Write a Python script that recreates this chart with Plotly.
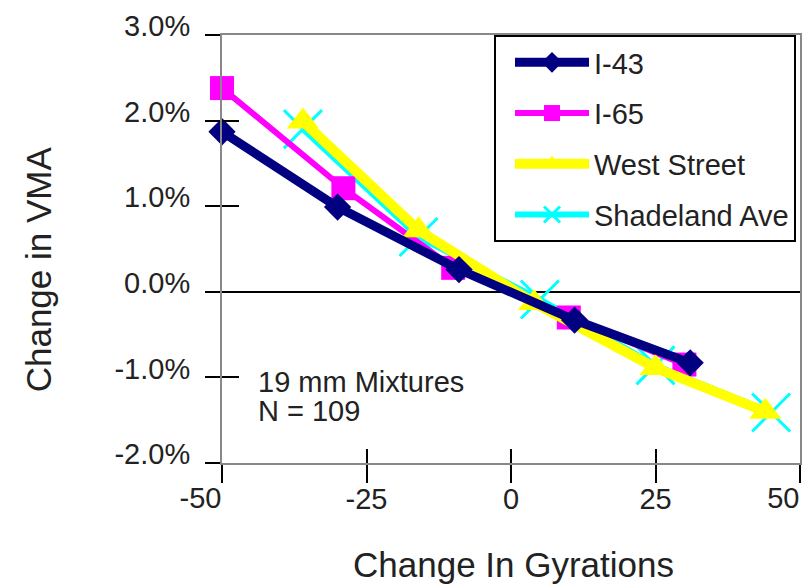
import plotly.graph_objects as go

# Change in gyrations vs. change in VMA (%), 19 mm mixtures
gyr_i43 = [-50, -30, -9, 11, 31]
vma_i43 = [1.87, 0.99, 0.26, -0.33, -0.83]

gyr_i65 = [-50, -29, -10, 10, 30]
vma_i65 = [2.38, 1.21, 0.28, -0.30, -0.85]

gyr_west = [-36, -16, 4, 25, 44]
vma_west = [1.99, 0.72, -0.13, -0.89, -1.40]

gyr_shade = [-36, -16, 5, 25, 45]
vma_shade = [1.90, 0.64, -0.09, -0.86, -1.41]

x_tickvals = [-50, -25, 0, 25, 50]
x_ticktext = ["-50", "-25", "0", "25", "50"]
y_tickvals = [-2, -1, 0, 1, 2, 3]
y_ticktext = ["-2.0%", "-1.0%", "0.0%", "1.0%", "2.0%", "3.0%"]

# inner ticks and end labels (right-aligned to their tick) go on overlay axes
x_inner = x_ticktext[1:-1]
x_end_vals = [x_tickvals[0], x_tickvals[-1]]
x_end_text = [x_ticktext[0], x_ticktext[-1]]

FONT = "Liberation Sans, Arial, sans-serif"
TXT = "#222222"

fig = go.Figure()

# drawing order: cyan, magenta, yellow, navy on top; legend order set by rank
fig.add_trace(go.Scatter(
    x=gyr_shade, y=vma_shade, name="Shadeland Ave", mode="lines+markers",
    line=dict(color="#00FFFF", width=6),
    marker=dict(symbol="x-thin", size=38, line=dict(color="#00FFFF", width=3)),
    legendrank=4, legendgroup="d", cliponaxis=False))
fig.add_trace(go.Scatter(
    x=gyr_i65, y=vma_i65, name="I-65", mode="lines+markers",
    line=dict(color="#FF00FF", width=6),
    marker=dict(symbol="square", size=24, color="#FF00FF"),
    legendrank=2, legendgroup="b", cliponaxis=False))
fig.add_trace(go.Scatter(
    x=gyr_west, y=vma_west, name="West Street", mode="lines+markers",
    line=dict(color="#FFFF00", width=10),
    marker=dict(symbol="triangle-up", size=28, color="#FFFF00"),
    legendrank=3, legendgroup="c", cliponaxis=False))
fig.add_trace(go.Scatter(
    x=gyr_i43, y=vma_i43, name="I-43", mode="lines+markers",
    line=dict(color="#000080", width=9),
    marker=dict(symbol="diamond", size=21, color="#000080"),
    legendrank=1, legendgroup="a", cliponaxis=False))

# empty traces so the overlay axes are drawn
fig.add_trace(go.Scatter(x=[], y=[], xaxis="x2", yaxis="y2",
                         showlegend=False, hoverinfo="skip"))
fig.add_trace(go.Scatter(x=[], y=[], xaxis="x3", yaxis="y",
                         showlegend=False, hoverinfo="skip"))

axis_font = dict(family=FONT, size=29, color=TXT)

fig.update_layout(
    width=804, height=586,
    margin=dict(l=222, r=4, t=35, b=123, autoexpand=False),
    paper_bgcolor="white", plot_bgcolor="white",
    font=dict(family=FONT, color=TXT),
    xaxis=dict(range=[-50, 50], tickvals=x_tickvals,
               ticktext=[""] + x_inner + [""],
               ticks="outside", ticklen=18, tickwidth=2, tickcolor="black",
               showline=True, linecolor="#888888", linewidth=2, mirror=True,
               showgrid=False, zeroline=False, tickfont=axis_font,
               ticklabelstandoff=-9),
    xaxis3=dict(range=[-50, 50], overlaying="x", anchor="y", side="bottom",
                tickvals=x_end_vals, ticktext=x_end_text, ticks="outside",
                ticklen=18, tickcolor="rgba(0,0,0,0)",
                ticklabelposition="outside left", ticklabelstandoff=9,
                ticklabeloverflow="allow", tickfont=axis_font,
                showline=False, showgrid=False, zeroline=False),
    yaxis=dict(range=[-2, 3], tickvals=y_tickvals, ticktext=y_ticktext,
               ticks="outside", ticklen=15, tickwidth=2, tickcolor="black",
               showline=True, linecolor="#888888", linewidth=2, mirror=True,
               showgrid=False, zeroline=True, zerolinecolor="black",
               zerolinewidth=2, tickfont=axis_font,
               ticklabelstandoff=9, ticklabelshift=-9,
               ticklabeloverflow="allow"),
    xaxis2=dict(range=[-50, 50], overlaying="x", anchor="y2", side="bottom",
                tickvals=x_tickvals, ticks="inside", ticklen=14, tickwidth=2,
                tickcolor="black", showticklabels=False, showline=False,
                showgrid=False, zeroline=False),
    yaxis2=dict(range=[-2, 3], overlaying="y", anchor="x2", side="left",
                tickvals=[-2, -1, 1, 2], ticks="inside", ticklen=17,
                tickwidth=2, tickcolor="black", showticklabels=False,
                showline=False, showgrid=False, zeroline=False),
    legend=dict(x=0.4706, xanchor="left", y=1, yanchor="top",
                bgcolor="white", bordercolor="black", borderwidth=2,
                font=dict(family=FONT, size=29, color=TXT),
                tracegroupgap=10, indentation=14, itemwidth=74,
                traceorder="grouped"),
    annotations=[
        dict(text="Change In Gyrations", xref="paper", yref="paper",
             x=(513 - 222) / 578, y=-0.238, xanchor="center", yanchor="middle",
             showarrow=False, font=dict(family=FONT, size=35, color=TXT)),
        dict(text="Change in VMA", xref="paper", yref="paper",
             x=-0.318, y=0.453, xanchor="center", yanchor="middle",
             textangle=-90, showarrow=False,
             font=dict(family=FONT, size=35, color=TXT)),
        dict(text="19 mm Mixtures", xref="paper", yref="paper",
             x=0.058, y=(463 - 382) / 428, xanchor="left", yanchor="middle",
             showarrow=False, font=dict(family=FONT, size=29, color=TXT)),
        dict(text="N = 109", xref="paper", yref="paper",
             x=0.058, y=(463 - 411) / 428, xanchor="left", yanchor="middle",
             showarrow=False, font=dict(family=FONT, size=29, color=TXT)),
    ],
)

fig.write_html("out.html")
